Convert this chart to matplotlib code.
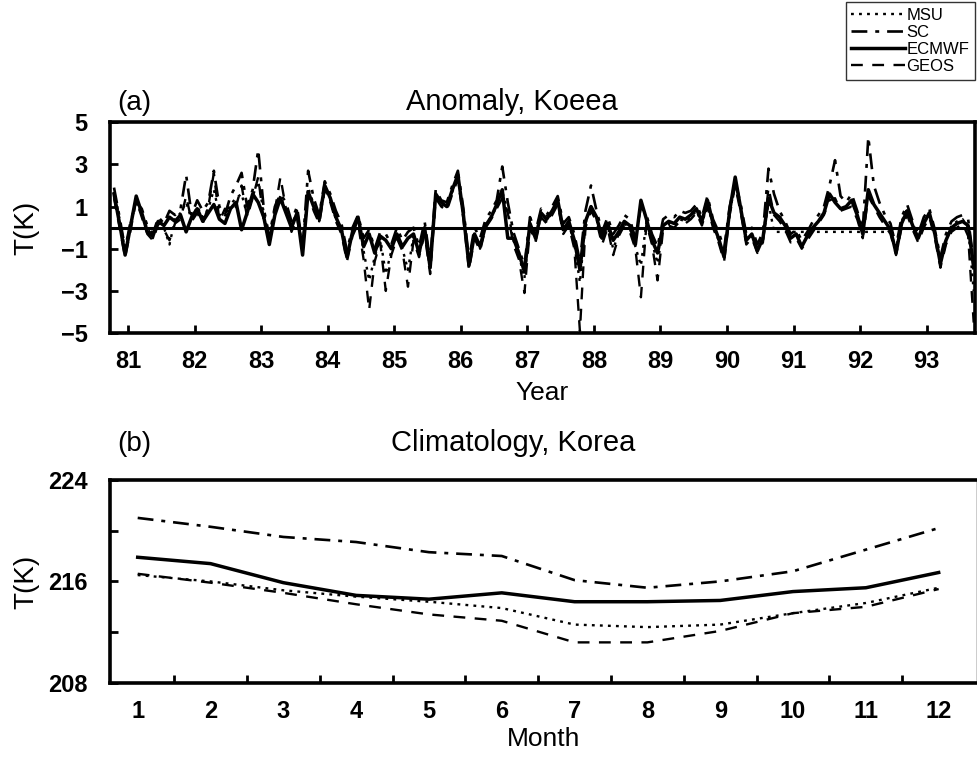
import numpy as np
import matplotlib
matplotlib.use("Agg")
import matplotlib.pyplot as plt

plt.rcParams['font.family'] = ['Liberation Sans', 'DejaVu Sans']

# --------------------------
# Data: (a) monthly anomaly, Jan 81 .. Dec 93
# --------------------------
year_labels = [str(y) for y in range(81, 94)]

ecmwf_anom = [
    1.6, 0.2, -1.3, 0.1, 1.5, 0.7, -0.2, -0.4, 0.3, 0.1, 0.5, 0.3,
    0.6, -0.2, 0.5, 0.9, 0.3, 0.7, 1.1, 0.4, 0.2, 0.9, 1.2, -0.1,
    0.7, 1.6, 1.2, 0.5, -0.8, 0.6, 1.4, 0.7, 0.0, 0.7, -1.3, 1.7,
    1.0, 0.4, 2.0, 1.4, 0.5, -0.1, -1.4, -0.2, 0.5, -0.9, -0.3, -1.2,
    -0.4, -0.6, -1.0, -0.3, -0.9, -0.5, -0.3, -1.2, 0.0, -1.9, 1.6, 1.2,
    1.0, 1.8, 2.5, 0.6, -1.8, -0.3, -0.9, 0.1, 0.5, 1.1, 1.8, -0.5,
    -0.5, -1.2, -2.1, 0.2, -0.5, 0.7, 0.4, 0.8, 1.3, -0.1, 0.3, -0.6,
    -2.0, 0.3, 1.0, 0.5, -0.5, 0.2, -0.6, -0.2, 0.3, 0.1, -0.8, 1.3,
    0.4, -0.6, -1.2, 0.1, 0.3, 0.2, 0.5, 0.4, 0.6, 0.9, 0.3, 1.3,
    0.2, -0.5, -1.4, 0.8, 2.4, 0.9, -0.6, -0.3, -1.1, -0.5, 1.4, 0.7,
    0.5, 0.1, -0.5, -0.3, -0.9, -0.4, 0.0, 0.3, 0.7, 1.6, 1.2, 0.9,
    1.0, 1.3, 0.6, -0.3, 1.8, 1.1, 0.7, 0.3, -0.1, -1.2, 0.2, 0.8,
    0.1, -0.5, 0.2, 0.7, -0.3, -1.7, -0.6, 0.0, 0.2, 0.3, 0.1, -1.9,
]
sc_anom = [
    1.9, 0.5, -1.0, 0.3, 1.2, 0.9, 0.1, -0.3, 0.5, 0.2, 0.8, 0.6,
    0.9, 2.5, 0.6, 1.3, 0.8, 1.2, 2.7, 1.0, 0.6, 1.5, 2.0, 2.6,
    1.0, 1.8, 3.7, 0.9, -0.4, 1.0, 1.6, 1.2, 0.3, 1.0, -0.9, 2.7,
    1.4, 0.6, 2.2, 1.6, 0.8, 0.2, -1.1, 0.0, 0.6, -0.5, -0.1, -1.0,
    -0.2, -0.3, -0.8, 0.0, -0.6, -0.2, 0.0, -0.9, 0.3, -1.6, 1.8, 1.3,
    1.2, 2.0, 2.7, 0.9, -1.5, 0.0, -0.5, 0.4, 0.8, 1.3, 2.9, 1.2,
    -0.2, -1.0, -1.8, 0.5, -0.2, 0.9, 0.6, 1.0, 1.5, 0.2, 0.5, -0.3,
    -1.6, 0.8, 2.0, 0.8, -0.2, 0.5, -0.3, 0.1, 0.6, 0.4, -0.5, 1.0,
    0.6, -0.3, -0.9, 0.4, 0.6, 0.5, 0.8, 0.7, 0.8, 1.1, 0.5, 1.5,
    0.4, -0.2, -1.0, 1.0, 2.2, 1.1, -0.3, 0.0, -0.8, -0.2, 2.8, 1.6,
    0.8, 0.3, -0.3, -0.1, -0.6, -0.2, 0.3, 0.6, 1.0, 2.0, 3.2, 1.5,
    1.2, 1.6, 0.8, -0.1, 4.3, 2.0, 1.2, 0.6, 0.2, -0.9, 0.5, 1.1,
    0.3, -0.3, 0.5, 0.9, -0.1, -1.4, -0.3, 0.3, 0.5, 0.6, 0.4, -1.6,
]
geos_anom = [
    1.4, 0.0, -1.4, -0.1, 1.3, 0.5, -0.3, -0.6, 0.2, -0.1, -0.6, 0.2,
    0.4, 1.5, 0.3, 0.7, 0.2, 1.0, 2.6, 0.3, 0.9, 0.7, 1.0, 2.0,
    0.5, 1.4, 2.4, 0.3, -0.6, 0.8, 2.4, 0.9, -0.2, 0.5, -1.1, 1.6,
    0.8, 0.2, 1.8, 1.2, 0.3, -0.3, -1.6, -0.4, 0.2, -1.5, -3.9, -1.6,
    -0.7, -3.0, -1.3, -0.5, -1.1, -2.8, -0.6, -1.4, -0.3, -2.2, 1.4, 1.0,
    0.8, 1.6, 2.3, 0.4, -2.0, -0.5, -1.1, 0.0, 0.4, 0.9, 1.4, 0.7,
    -0.8, -1.5, -3.1, 0.0, -0.7, 0.5, 0.2, 0.6, 1.1, -0.3, 0.1, -1.0,
    -4.9, 0.0, 0.8, 0.3, -0.8, 0.0, -1.3, -0.4, 0.1, -0.2, -1.0, -3.3,
    0.2, -0.8, -2.5, -0.1, 0.1, 0.0, 0.3, 0.2, 0.4, 0.7, 0.1, 1.0,
    0.0, -0.7, -1.6, 0.6, 2.0, 0.7, -0.8, -0.5, -1.2, -0.7, 1.9, 0.6,
    0.3, -0.1, -0.7, -0.5, -1.0, -0.6, -0.2, 0.2, 0.6, 1.3, 1.4, 0.8,
    0.9, 1.0, 0.4, -0.5, 1.5, 1.0, 0.5, 0.1, -0.3, -1.3, 0.0, 0.6,
    -0.1, -0.7, 0.0, 0.5, -0.5, -1.9, -0.8, -0.2, 0.0, 0.2, -0.4, -4.5,
]
msu_anom = [
    1.7, 0.4, -1.1, 0.2, 1.3, 0.6, 0.0, -0.5, 0.4, 0.0, -0.8, 0.4,
    0.7, 1.2, 0.4, 1.0, 0.5, 0.9, 1.8, 0.6, 0.5, 1.1, 1.4, 1.6,
    0.6, 1.5, 2.2, 0.7, -0.5, 0.9, 1.5, 0.8, 0.1, 0.8, -1.0, 1.9,
    1.1, 0.3, 1.9, 1.3, 0.4, 0.0, -1.3, -0.3, 0.4, -1.1, -2.5, -1.4,
    -0.5, -2.2, -1.1, -0.4, -1.0, -2.0, -0.4, -1.3, -0.2, -2.0, 1.5, 1.1,
    0.9, 1.7, 2.4, 0.5, -1.7, -0.4, -1.0, 0.2, 0.5, 1.0, 1.7, 0.8,
    -0.6, -1.3, -2.4, 0.2, -0.6, 0.6, 0.3, 0.7, 1.2, -0.2, 0.2, -0.8,
    -2.6, 0.2, 1.0, 0.4, -0.6, 0.1, -1.0, -0.3, 0.2, 0.0, -0.9, -1.8,
    0.3, -0.7, -1.7, 0.0, 0.2, 0.1, 0.4, 0.3, 0.5, 0.8, 0.2, 1.1,
    0.1, -0.6, -1.3, 0.7, 2.1, 0.8, -0.5, -0.4, -1.0, -0.6, 1.2, -0.2,
    -0.2, -0.2, -0.2, -0.2, -0.2, -0.2, -0.2, -0.2, -0.2, -0.2, -0.2, -0.2,
    -0.2, -0.2, -0.2, -0.2, -0.2, -0.2, -0.2, -0.2, -0.2, -1.0, 0.3, 0.9,
    0.2, -0.4, 0.3, 0.6, -0.2, -1.5, -0.5, 0.1, 0.3, 0.4, 0.0, -3.0,
]

# --------------------------
# Data: (b) monthly climatology
# --------------------------
months = list(range(1, 13))
msu_clim = [216.5, 216.0, 215.3, 214.8, 214.4, 213.9, 212.6, 212.4, 212.6, 213.5, 214.3, 215.5]
sc_clim = [221.0, 220.3, 219.5, 219.1, 218.3, 218.0, 216.1, 215.5, 216.0, 216.8, 218.5, 220.2]
ecmwf_clim = [217.9, 217.4, 215.9, 214.9, 214.6, 215.1, 214.4, 214.4, 214.5, 215.2, 215.5, 216.7]
geos_clim = [216.6, 215.9, 215.1, 214.2, 213.4, 212.9, 211.2, 211.2, 212.1, 213.5, 214.0, 215.4]

# line styles
STY = {
    "MSU": dict(color="black", lw=1.7, linestyle=(0, (1.2, 2.2))),
    "SC": dict(color="black", lw=1.9, linestyle=(0, (6, 3, 1.5, 3))),
    "ECMWF": dict(color="black", lw=2.5, linestyle="-"),
    "GEOS": dict(color="black", lw=1.7, linestyle=(0, (5, 4))),
}


def style_frame(ax, right_lw):
    for side in ("left", "top", "bottom"):
        ax.spines[side].set_linewidth(2.6)
    ax.spines["right"].set_linewidth(right_lw)


fig = plt.figure(figsize=(9.78, 7.64), dpi=100)

# --------------------------
# (a) Anomaly
# --------------------------
axa = fig.add_axes([0.1125, 0.564, 0.884, 0.276])
t = 80.79 + np.arange(len(ecmwf_anom)) / 12.0
axa.plot(t, msu_anom, **STY["MSU"])
axa.plot(t, sc_anom, **STY["SC"])
axa.plot(t, geos_anom, **STY["GEOS"])
axa.plot(t, ecmwf_anom, **STY["ECMWF"])
axa.axhline(0, color="black", lw=2.2)
axa.set_xlim(80.73, 93.72)
axa.set_ylim(-5, 5)
axa.set_yticks([-5, -3, -1, 1, 3, 5])
axa.set_yticklabels(["\u22125", "\u22123", "\u22121", "1", "3", "5"])
axa.set_xticks(range(81, 94))
axa.set_xticklabels(year_labels)
axa.tick_params(axis="x", direction="in", length=6, width=2, labelsize=17, pad=12)
axa.tick_params(axis="y", direction="in", length=6, width=2, labelsize=17, pad=16)
for lab in axa.get_xticklabels() + axa.get_yticklabels():
    lab.set_fontweight("bold")
style_frame(axa, 2.6)
axa.set_xlabel("Year", fontsize=19, labelpad=6)
axa.set_ylabel("T(K)", fontsize=20)
axa.yaxis.set_label_coords(-0.082, 0.5)
axa.text(0.008, 1.03, "(a)", transform=axa.transAxes, fontsize=20, ha="left", va="bottom")
axa.text(0.465, 1.03, "Anomaly, Koeea", transform=axa.transAxes, fontsize=21, ha="center", va="bottom")

# --------------------------
# (b) Climatology
# --------------------------
axb = fig.add_axes([0.1125, 0.106, 0.886, 0.266])
axb.plot(months, msu_clim, label="MSU", **STY["MSU"])
axb.plot(months, sc_clim, label="SC", **STY["SC"])
axb.plot(months, ecmwf_clim, label="ECMWF", **STY["ECMWF"])
axb.plot(months, geos_clim, label="GEOS", **STY["GEOS"])
axb.set_xlim(0.62, 12.52)
axb.set_ylim(208, 224)
axb.set_yticks([208, 216, 224])
axb.set_yticks([212, 220], minor=True)
axb.set_xticks(months)
axb.set_xticks(np.arange(1.5, 12, 1.0), minor=True)
axb.tick_params(axis="x", which="major", length=0, labelsize=17, pad=12)
axb.tick_params(axis="y", which="major", direction="in", length=6, width=2, labelsize=17, pad=16)
axb.tick_params(which="minor", direction="in", length=6, width=2)
for lab in axb.get_xticklabels() + axb.get_yticklabels():
    lab.set_fontweight("bold")
style_frame(axb, 1.0)
axb.set_xlabel("Month", fontsize=19, labelpad=3)
axb.set_ylabel("T(K)", fontsize=20)
axb.yaxis.set_label_coords(-0.082, 0.5)
axb.text(0.008, 1.11, "(b)", transform=axb.transAxes, fontsize=20, ha="left", va="bottom")
axb.text(0.465, 1.11, "Climatology, Korea", transform=axb.transAxes, fontsize=21, ha="center", va="bottom")

# legend in top right corner
handles, labels = axb.get_legend_handles_labels()
leg = fig.legend(handles, labels, loc="upper right", bbox_to_anchor=(0.997, 0.997),
                 fontsize=12, handlelength=3.2, handletextpad=0.1, labelspacing=0.12,
                 borderpad=0.35, borderaxespad=0.0, frameon=True, fancybox=False)
leg.get_frame().set_edgecolor("black")
leg.get_frame().set_linewidth(1.0)

fig.savefig("out.png", dpi=100)
